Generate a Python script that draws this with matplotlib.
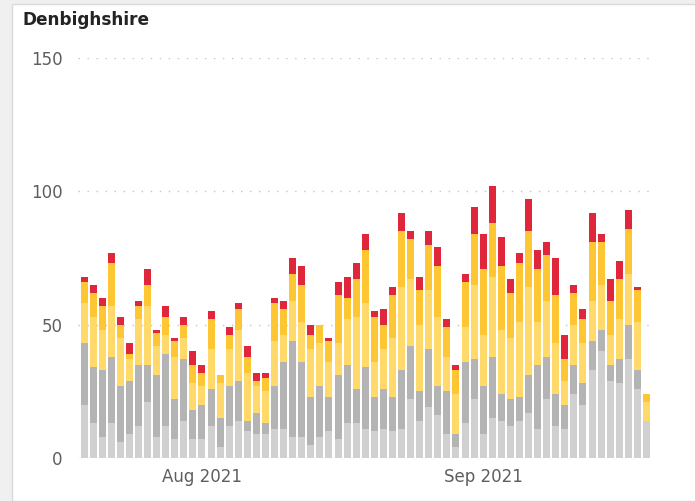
import numpy as np
import pandas as pd
import matplotlib
matplotlib.use("Agg")
import matplotlib.pyplot as plt
import matplotlib.dates as mdates
from matplotlib.patches import Rectangle

# daily values, 19 Jul 2021 - 19 Sep 2021
dates = pd.date_range("2021-07-19", "2021-09-19", freq="D")

grey_light = [20, 13, 8, 13, 6, 9, 12, 21, 8, 12, 7, 14, 7, 7, 12, 4, 12, 14, 10, 9, 9,
              11, 11, 8, 8, 5, 8, 10, 7, 13, 13, 11, 10, 11, 10, 11, 22, 14, 19, 16, 9,
              4, 13, 22, 9, 15, 14, 12, 14, 17, 11, 22, 12, 11, 24, 20, 33, 40, 29, 28, 37,
              26, 14]
grey_dark = [23, 21, 25, 25, 21, 20, 23, 14, 23, 27, 15, 23, 11, 13, 14, 11, 15, 15, 4, 8, 4,
             16, 25, 36, 28, 18, 19, 13, 24, 22, 13, 23, 13, 15, 13, 22, 20, 11, 22, 11, 16,
             5, 23, 15, 18, 23, 10, 10, 9, 14, 24, 16, 12, 9, 11, 8, 11, 8, 6, 9, 13,
             7, 0]
yellow_light = [15, 19, 15, 19, 18, 8, 17, 22, 11, 7, 16, 8, 10, 7, 15, 13, 14, 19, 18, 10, 12,
                17, 10, 15, 15, 18, 16, 13, 12, 17, 27, 24, 13, 15, 22, 31, 25, 25, 22, 26, 13,
                15, 13, 28, 19, 30, 24, 23, 28, 33, 16, 21, 19, 9, 15, 15, 15, 17, 11, 15, 19,
                18, 7]
yellow = [8, 9, 9, 16, 5, 2, 5, 8, 5, 7, 6, 5, 7, 5, 11, 3, 5, 8, 6, 2, 5,
          14, 10, 10, 14, 5, 7, 8, 18, 8, 14, 20, 17, 9, 16, 21, 15, 13, 17, 19, 11,
          9, 17, 19, 25, 20, 24, 17, 22, 21, 20, 17, 18, 8, 12, 9, 22, 16, 13, 15, 17,
          12, 3]
red = [2, 3, 3, 4, 3, 4, 2, 6, 1, 4, 1, 3, 5, 3, 3, 0, 3, 2, 4, 3, 2,
       2, 3, 6, 7, 4, 0, 1, 5, 8, 6, 6, 2, 6, 3, 7, 3, 5, 5, 7, 3,
       2, 3, 10, 13, 14, 11, 5, 4, 12, 7, 5, 14, 9, 3, 4, 11, 3, 8, 7, 7,
       1, 0]

series = [grey_light, grey_dark, yellow_light, yellow, red]
colours = ["#D0D0D0", "#B4B4B4", "#FFDA6B", "#FFC633", "#E0263A"]

fig = plt.figure(figsize=(6.95, 5.01), dpi=100)
fig.patch.set_facecolor("#F0F0F0")
fig.patches.append(Rectangle((12 / 695, 0), 1, 1 - 4 / 501, transform=fig.transFigure,
                             facecolor="white", edgecolor="#DADADA", lw=1, zorder=-10))

ax = fig.add_axes([78 / 695, 43 / 501, 576 / 695, 400 / 501])
ax.set_facecolor("none")

bottom = np.zeros(len(dates))
for vals, col in zip(series, colours):
    ax.bar(dates, vals, width=0.77, bottom=bottom, color=col, zorder=2)
    bottom += np.array(vals)

ax.set_ylim(0, 150)
ax.set_yticks([0, 50, 100, 150])
ax.set_xlim(dates[0] - pd.Timedelta(hours=16), dates[-1] + pd.Timedelta(hours=20))
ax.xaxis.set_major_locator(mdates.MonthLocator())
ax.xaxis.set_major_formatter(mdates.DateFormatter("%b %Y"))

for y in [0, 50, 100, 150]:
    ax.axhline(y, color="#C4C4C4", lw=1, ls=(0, (1, 5.5)), zorder=1)

for s in ax.spines.values():
    s.set_visible(False)
ax.tick_params(axis="both", length=0, labelcolor="#605E5C", labelsize=12)
ax.tick_params(axis="y", pad=11)
ax.tick_params(axis="x", pad=7)

fig.text(22 / 695, 1 - 20 / 501, "Denbighshire", fontsize=12.2, fontweight="bold",
         color="#252423", va="center", ha="left")

fig.savefig("out.png", dpi=100, facecolor=fig.get_facecolor())
